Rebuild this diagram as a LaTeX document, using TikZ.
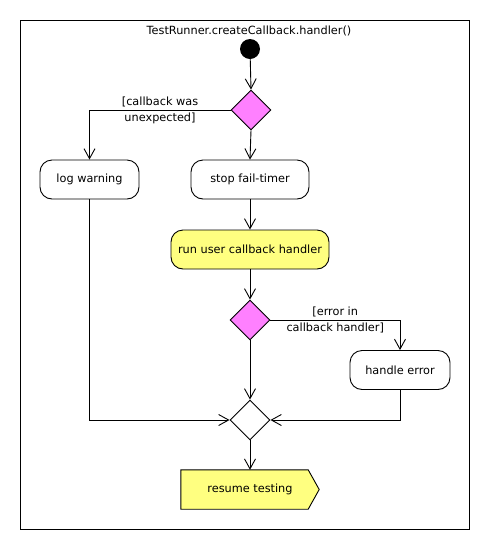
\documentclass[tikz,border=0pt]{standalone}
\usepackage{fontspec}
\setmainfont{DejaVu Sans}
\usetikzlibrary{shapes.geometric,arrows.meta}
\definecolor{decpink}{HTML}{FF80FF}
\definecolor{actyellow}{HTML}{FFFF80}
\begin{document}
\begin{tikzpicture}[x=1pt,y=-1pt,
  every node/.style={font=\fontsize{11.3}{16}\selectfont},
  flow/.style={draw=black,line width=0.9pt},
  arr/.style={flow,-{Straight Barb[length=10pt,width=11pt,line width=0.9pt]}},
  action/.style={draw=black,line width=0.9pt,rectangle,rounded corners=12pt,
    minimum height=39pt,inner sep=0pt},
  decision/.style={draw=black,line width=0.9pt,diamond,aspect=1,
    minimum width=40pt,minimum height=40pt,inner sep=0pt},
  guard/.style={align=center,inner sep=0pt}]
\useasboundingbox (0,0) rectangle (490,550);
% activity frame
\draw[line width=0.9pt] (20,20) rectangle (469,529);
\node (title) at (249,31) {TestRunner.createCallback.handler()};

% nodes
\node[circle,fill=black,minimum size=20pt,inner sep=0pt] (start) at (250,49) {};
\node[decision,fill=decpink] (d1) at (251,110) {};
\node[action,minimum width=99pt] (log) at (89.5,179.5) {log warning};
\node[action,minimum width=118pt] (stop) at (250,179.5) {stop fail-timer};
\node[action,minimum width=158pt,fill=actyellow] (run) at (250,249.5) {run user callback handler};
\node[decision,fill=decpink] (d2) at (250,320) {};
\node[action,minimum width=100pt] (herr) at (400,370) {handle error};
\node[decision,fill=white] (merge) at (250,420) {};
% send-signal action: pentagon outline drawn around the text node
\node[minimum width=138pt,minimum height=39pt,inner sep=0pt] (resume) at (250,489.5) {};
\draw[line width=0.9pt,fill=actyellow,line join=miter]
  (resume.north west) -- ([xshift=-11pt]resume.north east) -- (resume.east)
  -- ([xshift=-11pt]resume.south east) -- (resume.south west) -- cycle;
\node at (resume.center) {resume testing};

% connectors
\draw[arr] (start) -- (d1.north);
\draw[arr] (d1.west) -| node[guard,pos=0.25] {[callback was\\unexpected]} (log.north);
\draw[arr] (d1.south) -- (stop.north);
\draw[arr] (stop.south) -- (run.north);
\draw[arr] (run.south) -- (d2.north);
\draw[arr] (d2.east) -| node[guard,pos=0.25] {[error in\\callback handler]} (herr.north);
\draw[arr] (d2.south) -- (merge.north);
\draw[arr] (log.south) |- (merge.west);
\draw[arr] (herr.south) |- (merge.east);
\draw[arr] (merge.south) -- (resume.north);
\end{tikzpicture}
\end{document}
